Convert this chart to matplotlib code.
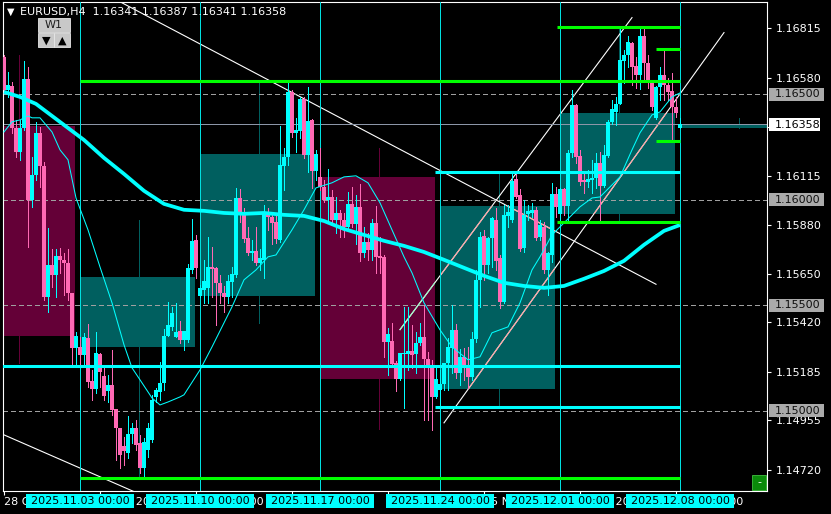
import matplotlib
matplotlib.use("Agg")
import matplotlib.pyplot as plt
from matplotlib.patches import Rectangle
import numpy as np

plt.rcParams['font.family'] = ['DejaVu Sans']
plt.rcParams['lines.scale_dashes'] = False

# EURUSD H4 bars: index 0 = 28 Oct 20:00 ... index 169 = 2025.12.08 00:00 (current bar)
opens = [
    1.16678, 1.16521, 1.16540, 1.16341, 1.16228, 1.16341, 1.16574, 1.16000, 1.16118, 1.16318,
    1.16161, 1.15540, 1.15692, 1.15645, 1.15735, 1.15716, 1.15701, 1.15559, 1.15298, 1.15303,
    1.15265, 1.15346, 1.15142, 1.15104, 1.15270, 1.15166, 1.15095, 1.15123, 1.15009, 1.14919,
    1.14834, 1.14801, 1.14891, 1.14919, 1.14848, 1.14730, 1.14815, 1.14862, 1.15066, 1.15090,
    1.15133, 1.15355, 1.15398, 1.15351, 1.15379, 1.15336, 1.15336, 1.15668, 1.15810, 1.15545,
    1.15573, 1.15583, 1.15682, 1.15678, 1.15607, 1.15559, 1.15540, 1.15611, 1.15645, 1.16009,
    1.15938, 1.15820, 1.15749, 1.15758, 1.15701, 1.15716, 1.15938, 1.15919, 1.15896, 1.15810,
    1.16161, 1.16204, 1.16512, 1.16318, 1.16327, 1.16479, 1.16213, 1.16379, 1.16137, 1.16109,
    1.16062, 1.16000, 1.16014, 1.15905, 1.15938, 1.15905, 1.15872, 1.15981, 1.15886, 1.15967,
    1.15749, 1.15801, 1.15763, 1.15891, 1.15735, 1.15730, 1.15327, 1.15332, 1.15227, 1.15152,
    1.15270, 1.15270, 1.15284, 1.15270, 1.15322, 1.15351, 1.15246, 1.15218, 1.15066, 1.15099,
    1.15128, 1.15227, 1.15298, 1.15384, 1.15180, 1.15256, 1.15204, 1.15161, 1.15341, 1.15621,
    1.15829, 1.15692, 1.15820, 1.15905, 1.15725, 1.15517, 1.15924, 1.15905, 1.16100, 1.16024,
    1.15772, 1.15934, 1.15938, 1.15953, 1.15825, 1.15872, 1.15668, 1.15739, 1.16028, 1.15934,
    1.16052, 1.15972, 1.16223, 1.16450, 1.16209, 1.16095, 1.16085, 1.16095, 1.16104, 1.16175,
    1.16066, 1.16209, 1.16370, 1.16417, 1.16455, 1.16659, 1.16687, 1.16744, 1.16635, 1.16593,
    1.16777, 1.16649, 1.16555, 1.16389, 1.16536, 1.16593, 1.16545, 1.16517, 1.16441, 1.16341,
]
highs = [
    1.16687, 1.16607, 1.16559, 1.16379, 1.16379, 1.16659, 1.16630, 1.16204, 1.16370, 1.16346,
    1.16180, 1.15867, 1.15768, 1.15768, 1.15772, 1.15749, 1.15768, 1.15559, 1.15374, 1.15351,
    1.15370, 1.15412, 1.15194, 1.15374, 1.15275, 1.15204, 1.15171, 1.15289, 1.15009, 1.14919,
    1.14877, 1.14976, 1.14943, 1.14957, 1.14886, 1.14872, 1.14943, 1.15076, 1.15109, 1.15232,
    1.15388, 1.15517, 1.15493, 1.15512, 1.15426, 1.15379, 1.15697, 1.15910, 1.15834, 1.15597,
    1.15716, 1.15825, 1.15777, 1.15682, 1.15645, 1.15592, 1.15645, 1.15682, 1.16057, 1.16052,
    1.15962, 1.15872, 1.15810, 1.15872, 1.15768, 1.15976, 1.15962, 1.15938, 1.15938, 1.16351,
    1.16246, 1.16555, 1.16521, 1.16389, 1.16488, 1.16488, 1.16536, 1.16384, 1.16237, 1.16246,
    1.16095, 1.16147, 1.16047, 1.16014, 1.15953, 1.15938, 1.16038, 1.16062, 1.16024, 1.16076,
    1.15872, 1.15844, 1.15910, 1.15972, 1.15825, 1.15739, 1.15393, 1.15417, 1.15237, 1.15275,
    1.15493, 1.15493, 1.15407, 1.15374, 1.15417, 1.15502, 1.15280, 1.15242, 1.15204, 1.15194,
    1.15227, 1.15346, 1.15502, 1.15412, 1.15294, 1.15298, 1.15303, 1.15374, 1.15668, 1.15848,
    1.15858, 1.15825, 1.15919, 1.15962, 1.15739, 1.15976, 1.15976, 1.16128, 1.16123, 1.16052,
    1.16000, 1.15976, 1.15986, 1.15967, 1.15905, 1.15896, 1.15753, 1.16081, 1.16062, 1.16057,
    1.16057, 1.16237, 1.16521, 1.16455, 1.16237, 1.16128, 1.16142, 1.16190, 1.16223, 1.16228,
    1.16261, 1.16379, 1.16474, 1.16488, 1.16810, 1.16711, 1.16777, 1.16749, 1.16678, 1.16810,
    1.16810, 1.16687, 1.16569, 1.16540, 1.16630, 1.16716, 1.16578, 1.16602, 1.16488, 1.16387,
]
lows = [
    1.16512, 1.16488, 1.16318, 1.16204, 1.16190, 1.16332, 1.15777, 1.15967, 1.16095, 1.16062,
    1.15526, 1.15469, 1.15588, 1.15540, 1.15654, 1.15550, 1.15526, 1.15218, 1.15218, 1.15218,
    1.15218, 1.15114, 1.15052, 1.15085, 1.15114, 1.15052, 1.15042, 1.14981, 1.14768, 1.14730,
    1.14744, 1.14777, 1.14848, 1.14815, 1.14706, 1.14687, 1.14782, 1.14853, 1.15042, 1.15052,
    1.15099, 1.15355, 1.15384, 1.15351, 1.15322, 1.15289, 1.15327, 1.15654, 1.15630, 1.15540,
    1.15512, 1.15512, 1.15540, 1.15407, 1.15512, 1.15469, 1.15512, 1.15540, 1.15635, 1.15896,
    1.15801, 1.15739, 1.15716, 1.15692, 1.15668, 1.15630, 1.15858, 1.15791, 1.15796, 1.15801,
    1.16047, 1.16166, 1.16299, 1.16228, 1.16294, 1.16199, 1.16133, 1.16057, 1.16095, 1.16047,
    1.15990, 1.15896, 1.15896, 1.15844, 1.15825, 1.15825, 1.15858, 1.15872, 1.15791, 1.15711,
    1.15730, 1.15716, 1.15716, 1.15654, 1.15654, 1.15256, 1.15171, 1.15218, 1.15095, 1.15147,
    1.15014, 1.15194, 1.15204, 1.15180, 1.15313, 1.14957, 1.14957, 1.14910, 1.15061, 1.15028,
    1.15099, 1.15099, 1.15180, 1.15156, 1.15123, 1.15147, 1.15109, 1.15147, 1.15327, 1.15493,
    1.15621, 1.15654, 1.15682, 1.15668, 1.15488, 1.15512, 1.15872, 1.15896, 1.16009, 1.15758,
    1.15753, 1.15905, 1.15919, 1.15810, 1.15810, 1.15654, 1.15550, 1.15706, 1.15919, 1.15905,
    1.15929, 1.15896, 1.16204, 1.16175, 1.16071, 1.16033, 1.16062, 1.16033, 1.16057, 1.15905,
    1.16062, 1.16204, 1.16360, 1.16355, 1.16455, 1.16555, 1.16630, 1.16545, 1.16531, 1.16526,
    1.16569, 1.16531, 1.16427, 1.16384, 1.16474, 1.16474, 1.16474, 1.16289, 1.16393, 1.16341,
]
closes = [
    1.16521, 1.16545, 1.16341, 1.16228, 1.16341, 1.16574, 1.16000, 1.16118, 1.16318, 1.16161,
    1.15540, 1.15692, 1.15645, 1.15735, 1.15716, 1.15701, 1.15559, 1.15298, 1.15355, 1.15265,
    1.15351, 1.15137, 1.15104, 1.15275, 1.15185, 1.15071, 1.15123, 1.15005, 1.14919, 1.14791,
    1.14810, 1.14891, 1.14919, 1.14839, 1.14730, 1.14853, 1.14919, 1.15052, 1.15099, 1.15133,
    1.15355, 1.15407, 1.15464, 1.15374, 1.15336, 1.15379, 1.15678, 1.15806, 1.15678, 1.15583,
    1.15616, 1.15682, 1.15673, 1.15607, 1.15559, 1.15540, 1.15616, 1.15649, 1.16009, 1.15938,
    1.15815, 1.15749, 1.15758, 1.15701, 1.15725, 1.15938, 1.15919, 1.15891, 1.15815, 1.16166,
    1.16204, 1.16512, 1.16318, 1.16332, 1.16479, 1.16213, 1.16374, 1.16137, 1.16218, 1.16062,
    1.16000, 1.16014, 1.15905, 1.15938, 1.15905, 1.15872, 1.15981, 1.15886, 1.15967, 1.15749,
    1.15801, 1.15763, 1.15891, 1.15730, 1.15725, 1.15327, 1.15365, 1.15223, 1.15152, 1.15275,
    1.15275, 1.15284, 1.15265, 1.15322, 1.15351, 1.15246, 1.15218, 1.15066, 1.15152, 1.15128,
    1.15227, 1.15303, 1.15384, 1.15180, 1.15256, 1.15204, 1.15161, 1.15341, 1.15621, 1.15825,
    1.15692, 1.15820, 1.15915, 1.15711, 1.15517, 1.15929, 1.15943, 1.16090, 1.16014, 1.15768,
    1.15929, 1.15948, 1.15953, 1.15820, 1.15881, 1.15668, 1.15749, 1.16028, 1.15967, 1.16052,
    1.15972, 1.16223, 1.16450, 1.16204, 1.16085, 1.16085, 1.16100, 1.16104, 1.16175, 1.16066,
    1.16213, 1.16370, 1.16431, 1.16455, 1.16664, 1.16687, 1.16749, 1.16630, 1.16593, 1.16777,
    1.16649, 1.16555, 1.16441, 1.16536, 1.16593, 1.16545, 1.16512, 1.16441, 1.16412, 1.16358,
]

# weekly candles drawn as boxes (start bar index of each week)
week_start = [-11, 19, 49, 79, 109, 139, 169]
week_open = [1.16351, 1.15303, 1.15545, 1.16109, 1.15104, 1.15934, 1.16341]
week_close = [1.15355, 1.15635, 1.16218, 1.15152, 1.15972, 1.16412, 1.16358]
week_high = [1.16687, 1.15905, 1.16555, 1.16246, 1.16128, 1.16815, 1.16387]
week_low = [1.15227, 1.14687, 1.15417, 1.14915, 1.15024, 1.15896, 1.16341]

# moving averages (bar index, value)
slow_ma_idx = [0, 4, 8, 12, 16, 20, 25, 30, 35, 40, 45, 50, 55, 60, 65, 70, 75, 80, 85, 90,
               95, 100, 105, 110, 115, 120, 125, 130, 135, 140, 145, 150, 155, 160, 165, 169]
slow_ma = [1.16512, 1.16488, 1.16455, 1.16398, 1.16341, 1.16284, 1.16199, 1.16123, 1.16043, 1.15981,
           1.15953, 1.15948, 1.15938, 1.15934, 1.15938, 1.15929, 1.15924, 1.15900, 1.15862, 1.15834,
           1.15806, 1.15782, 1.15753, 1.15716, 1.15678, 1.15640, 1.15607, 1.15592, 1.15583, 1.15592,
           1.15626, 1.15663, 1.15711, 1.15787, 1.15853, 1.15881]
fast_ma_idx = [0, 2, 4, 6, 7, 9, 12, 14, 16, 18, 21, 24, 27, 30, 32, 34, 37, 39, 41, 44, 45, 49,
               52, 57, 60, 63, 66, 68, 72, 75, 78, 82, 85, 88, 91, 94, 97, 100, 102, 105, 109, 112,
               116, 119, 122, 126, 129, 132, 134, 137, 139, 144, 147, 149, 154, 157, 159, 162, 164,
               167, 169]
fast_ma = [1.16322, 1.16370, 1.16379, 1.16398, 1.16389, 1.16389, 1.16322, 1.16237, 1.16190, 1.16009,
           1.15858, 1.15682, 1.15512, 1.15313, 1.15204, 1.15147, 1.15061, 1.15028, 1.15042, 1.15066,
           1.15076, 1.15194, 1.15303, 1.15493, 1.15621, 1.15668, 1.15730, 1.15739, 1.15858, 1.15953,
           1.16057, 1.16081, 1.16109, 1.16114, 1.16081, 1.15986, 1.15858, 1.15730, 1.15654, 1.15512,
           1.15384, 1.15303, 1.15242, 1.15256, 1.15370, 1.15398, 1.15512, 1.15668, 1.15730, 1.15834,
           1.15872, 1.15967, 1.16009, 1.16014, 1.16109, 1.16237, 1.16318, 1.16403, 1.16417, 1.16488,
           1.16507]

# drawn objects
trend_lines = [  # (bar index pair, price pair)
    ([20, 163], [1.17029, 1.15600]),
    ([0, 40], [1.14886, 1.14555]),
    ([99, 157], [1.15385, 1.16864]),
    ([110, 180], [1.14943, 1.16793]),
]
green_levels = [1.16562, 1.14682, 1.16819, 1.15894, 1.16716, 1.16280]
green_from = [19, 19, 138.25, 138.25, 163, 163]
cyan_levels = [1.15211, 1.16131, 1.15019]
cyan_from = [-1, 107.75, 107.75]
level_to = 169
round_levels = [1.16500, 1.16000, 1.15500, 1.15000]
bid = 1.16358

axis_prices = [1.16815, 1.16580, 1.16345, 1.16115, 1.15880, 1.15650, 1.15420, 1.15185, 1.14955, 1.14720]
time_ticks = [0, 24, 48, 72, 96, 120, 144, 168]
time_labels = ["28 Oct 2025", "3 Nov 20:00", "7 Nov 20:00", "13 Nov 20:00", "19 Nov 20:00",
               "25 Nov 20:00", "1 Dec 20:00", "5 Dec 20:00"]
sep_idx = [19, 49, 79, 109, 139, 169]
sep_labels = ["2025.11.03 00:00", "2025.11.10 00:00", "2025.11.17 00:00",
              "2025.11.24 00:00", "2025.12.01 00:00", "2025.12.08 00:00"]

BULL = '#00ffff'
BEAR = '#ff69b4'
TEAL = '#005f5f'
MAROON = '#640037'
XOR_TEAL = '#ffa0a0'
XOR_MAROON = '#9bffc8'
THIN = 0.5  # one device pixel when antialiasing is off
W, H = 831, 514

fig = plt.figure(figsize=(W / 100, H / 100), dpi=100, facecolor='black')
ax = fig.add_axes([3 / W, 23 / H, 764 / W, 489 / H], facecolor='black')
ax.set_xlim(-0.25, 190.75)
ax.set_ylim(1.14620, 1.16938)

# weekly boxes + wicks
clip_boxes = []
for ws, wo, wc, wh, wl in zip(week_start, week_open, week_close, week_high, week_low):
    col = TEAL if wc >= wo else MAROON
    lo, hi = min(wo, wc), max(wo, wc)
    ax.vlines(ws + 14.75, wl, wh, colors=col, lw=THIN, zorder=1, antialiased=False)
    ax.add_patch(Rectangle((ws, lo), 28.75, hi - lo, fc=col, ec='none', zorder=1))
    clip_boxes.append((Rectangle((ws, lo), 28.75, hi - lo, transform=ax.transData),
                       XOR_TEAL if col == TEAL else XOR_MAROON))

# trend / channel lines (xor-looking over the boxes)
for xs, ps in trend_lines:
    ax.plot(xs, ps, color='white', lw=0.8, zorder=2)
    for rect, xc in clip_boxes:
        ln, = ax.plot(xs, ps, color=xc, lw=0.8, zorder=2.1)
        ln.set_clip_path(rect)

for lvl in round_levels:
    ax.axhline(lvl, color='#a0a0a0', lw=THIN, dashes=(2.9, 2.2), zorder=2.5, antialiased=False)
ax.axhline(bid, color='#8c96a8', lw=THIN, zorder=2.5, antialiased=False)
for s in sep_idx:
    ax.axvline(s, color='#00e0e0', lw=THIN, zorder=2.6, antialiased=False)

# candles
o = np.array(opens); c = np.array(closes); h = np.array(highs); l = np.array(lows)
idx = np.arange(len(c))
cols = np.where(c >= o, BULL, BEAR)
ax.vlines(idx, l, h, colors=cols, lw=THIN, zorder=3, antialiased=False)
body = np.maximum(np.abs(c - o), 0.00005)
ax.bar(idx, body, bottom=np.minimum(o, c), width=0.78, color=cols, lw=0, zorder=4,
       antialiased=False)

# indicators
ax.plot(fast_ma_idx, fast_ma, color=BULL, lw=0.75, zorder=5)
ax.plot(slow_ma_idx, slow_ma, color=BULL, lw=2.7, zorder=5, solid_capstyle='butt')

# horizontal levels
for lvl, x0 in zip(green_levels, green_from):
    ax.hlines(lvl, x0, level_to, colors='#00ff00', lw=2.2, zorder=6)
for lvl, x0 in zip(cyan_levels, cyan_from):
    ax.hlines(lvl, x0, level_to, colors=BULL, lw=2.2, zorder=6)

# axes styling
for sp in ax.spines.values():
    sp.set_color('white')
    sp.set_linewidth(0.8)
ax.yaxis.tick_right()
ax.set_yticks(axis_prices)
ax.set_yticklabels([f"{p:.5f}" for p in axis_prices])
ax.tick_params(axis='y', colors='white', labelsize=8, length=3, width=0.8, pad=3)
ax.set_xticks(time_ticks)
ax.set_xticklabels(time_labels, ha='left')
ax.tick_params(axis='x', colors='white', labelsize=8, length=3, width=0.8, pad=1.5)

# overlay in pixel space for the terminal widgets
ov = fig.add_axes([0, 0, 1, 1], facecolor='none')
ov.set_xlim(0, W)
ov.set_ylim(H, 0)
ov.axis('off')


def to_px(xd, yd):
    X, Y = ax.transData.transform((xd, yd))
    return X, H - Y


for s, lab in zip(sep_idx, sep_labels):
    cx, _ = to_px(s, 1.15)
    ov.add_patch(Rectangle((cx - 54, 494), 108, 14, fc=BULL, ec='none'))
    ov.text(cx, 501, lab, ha='center', va='center', fontsize=8, color='black')

for lvl in round_levels:
    _, cy = to_px(0, lvl)
    ov.add_patch(Rectangle((769, cy - 6.5), 55, 13, fc='#aaaaaa', ec='none'))
    ov.text(775, cy, f"{lvl:.5f}", ha='left', va='center', fontsize=8, color='#101010')
_, cy = to_px(0, bid)
ov.add_patch(Rectangle((769, cy - 6), 51, 13, fc='white', ec='none'))
ov.text(775, cy + 0.5, f"{bid:.5f}", ha='left', va='center', fontsize=8, color='black')

# header and period buttons
ov.text(11, 12, "\u25bc", ha='center', va='center', fontsize=7, color='white')
ov.text(20, 12, "EURUSD,H4  %.5f %.5f %.5f %.5f" % (opens[-1], highs[-1], lows[-1], closes[-1]),
        ha='left', va='center', fontsize=8, color='white')
ov.add_patch(Rectangle((38, 18), 32, 14, fc='#c8c8c8', ec='#e8e8e8', lw=0.6))
ov.text(54, 25.5, "W1", ha='center', va='center', fontsize=8, color='#202020')
for bx, glyph in ((38, "\u25bc"), (54, "\u25b2")):
    ov.add_patch(Rectangle((bx, 33), 15.5, 14, fc='#c8c8c8', ec='#e8e8e8', lw=0.6))
    ov.text(bx + 7.75, 40.5, glyph, ha='center', va='center', fontsize=8, color='black')
ov.add_patch(Rectangle((752, 475), 14, 15, fc='#0a8a0a', ec='#40c040', lw=0.6))
ov.text(759, 482, "-", ha='center', va='center', fontsize=8, color='white')

fig.savefig("out.png", dpi=100, facecolor='black')
